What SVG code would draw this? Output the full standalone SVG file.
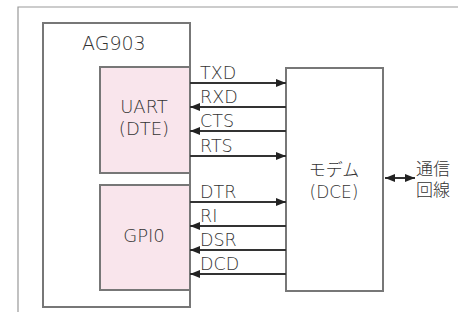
<svg xmlns="http://www.w3.org/2000/svg" width="458" height="321" viewBox="0 0 458 321">
<style>
.box{fill:#fff;stroke:#777;stroke-width:2}
.pink{fill:#f9e5ec;stroke:#777;stroke-width:2}
.t{font-family:"DejaVu Sans","Noto Sans CJK JP",sans-serif;font-weight:200;fill:#333;font-size:17.5px}
.w{stroke:#333;stroke-width:2;fill:none}
</style>
<defs>
<marker id="ah" viewBox="0 0 10 8" refX="10" refY="4" markerWidth="10" markerHeight="8" markerUnits="userSpaceOnUse" orient="auto-start-reverse">
<path d="M0,0 L10,4 L0,8 Z" fill="#222"/>
</marker>
</defs>
<g id="frame"><path d="M18,312 V7 H458" fill="none" stroke="#999" stroke-width="1.2"/></g>
<g id="ag903"><rect class="box" x="43" y="23" width="147" height="284"/><text class="t" x="82" y="50" style="font-size:19px">AG903</text></g>
<g id="uart"><rect class="pink" x="100" y="67" width="90" height="106"/><text class="t" x="144" y="113" text-anchor="middle" style="font-size:18px">UART</text><text class="t" x="144" y="135" text-anchor="middle" style="font-size:18px">(DTE)</text></g>
<g id="gpio"><rect class="pink" x="100" y="185" width="90" height="105"/><text class="t" x="144" y="242" text-anchor="middle" style="font-size:18px">GPI0</text></g>
<g id="modem"><rect class="box" x="286" y="68" width="97" height="223"/><text class="t" x="334" y="176" text-anchor="middle" style="font-size:17px">モデム</text><text class="t" x="334" y="198" text-anchor="middle" style="font-size:17px">(DCE)</text></g>
<g id="line"><text class="t" x="416" y="175" style="font-size:17px">通信</text><text class="t" x="416" y="196" style="font-size:17px">回線</text></g>
<g id="connectors">
<line class="w" x1="190" y1="83" x2="286" y2="83" marker-end="url(#ah)"/>
<line class="w" x1="190" y1="107" x2="286" y2="107" marker-start="url(#ah)"/>
<line class="w" x1="190" y1="131" x2="286" y2="131" marker-start="url(#ah)"/>
<line class="w" x1="190" y1="156" x2="286" y2="156" marker-end="url(#ah)"/>
<line class="w" x1="190" y1="202" x2="286" y2="202" marker-end="url(#ah)"/>
<line class="w" x1="190" y1="226" x2="286" y2="226" marker-start="url(#ah)"/>
<line class="w" x1="190" y1="250" x2="286" y2="250" marker-start="url(#ah)"/>
<line class="w" x1="190" y1="274" x2="286" y2="274" marker-start="url(#ah)"/>
<line class="w" x1="385" y1="178" x2="415" y2="178" marker-start="url(#ah)" marker-end="url(#ah)"/>
</g>
<g id="labels">
<text class="t" x="200" y="79">TXD</text>
<text class="t" x="200" y="103">RXD</text>
<text class="t" x="200" y="127">CTS</text>
<text class="t" x="200" y="152">RTS</text>
<text class="t" x="200" y="198">DTR</text>
<text class="t" x="200" y="222">RI</text>
<text class="t" x="200" y="246">DSR</text>
<text class="t" x="200" y="270">DCD</text>
</g>
</svg>
